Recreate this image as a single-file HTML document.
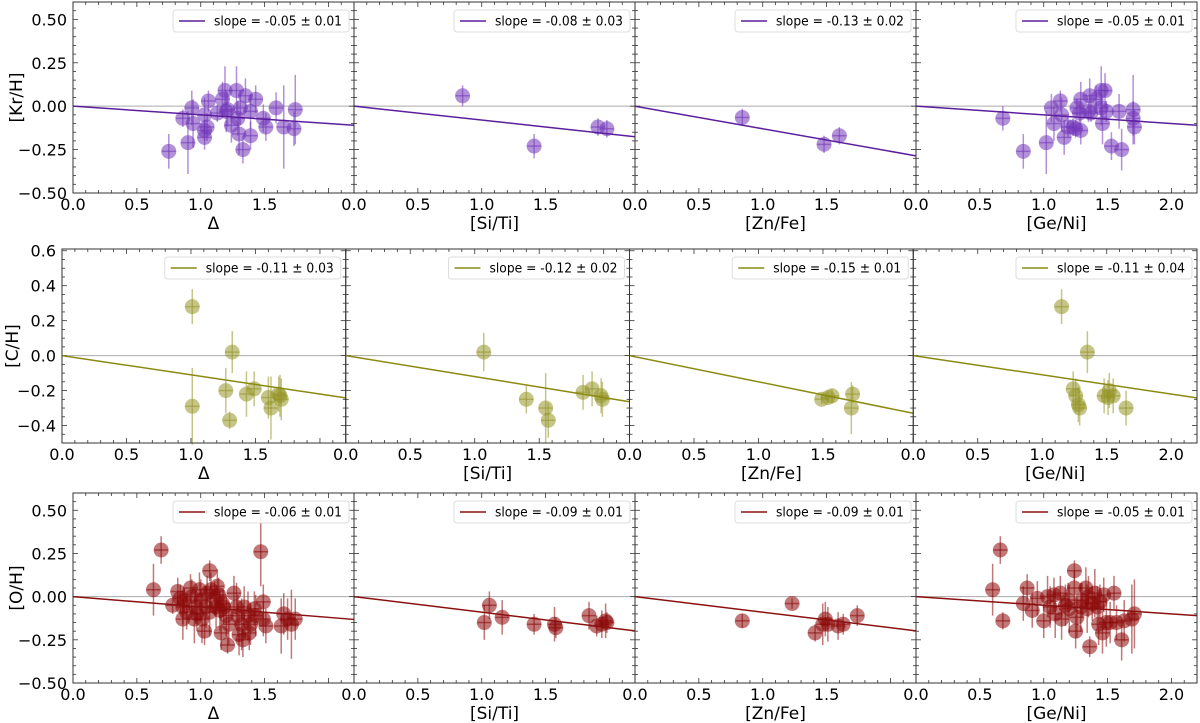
<!DOCTYPE html>
<html><head><meta charset="utf-8">
<style>
html,body{margin:0;padding:0;background:#fff;}
svg{display:block;font-family:"DejaVu Sans","Liberation Sans",sans-serif;}
</style></head>
<body>
<svg id="fig" width="1200" height="723" viewBox="0 0 1200 723"></svg>
<script>
// ---- data ----
const xLabels = ["Δ","[Si/Ti]","[Zn/Fe]","[Ge/Ni]"];
const yLabels = ["[Kr/H]","[C/H]","[O/H]"];
const slopes = [[-0.05,-0.08,-0.13,-0.05],[-0.11,-0.12,-0.15,-0.11],[-0.06,-0.09,-0.09,-0.05]];
const slopeErrs = [[0.01,0.03,0.02,0.01],[0.03,0.02,0.01,0.04],[0.01,0.01,0.01,0.01]];
const xTicks = [0,0.5,1.0,1.5,2.0];
const yTicksA = [-0.5,-0.25,0,0.25,0.5];
const yTicksB = [-0.4,-0.2,0,0.2,0.4,0.6];

// Row 1 (Kr)
const kr1X=[0.75,0.86,0.90,0.93,0.94,1.03,1.03,1.03,1.05,1.06,1.13,1.17,1.19,1.20,1.21,1.24,1.28,1.29,1.30,1.31,1.33,1.35,1.39,1.39,1.43,1.49,1.51,1.59,1.65,1.73,1.74];
const kr1Y=[-0.26,-0.07,-0.21,-0.01,-0.10,-0.05,-0.14,-0.18,-0.12,0.03,-0.04,0.04,0.09,-0.03,-0.02,-0.11,0.09,-0.07,-0.16,-0.01,-0.25,0.06,-0.03,-0.17,0.04,-0.07,-0.12,-0.01,-0.12,-0.13,-0.02];
const kr1E=[0.1,0.05,0.18,0.1,0.14,0.1,0.06,0.07,0.08,0.06,0.05,0.1,0.14,0.12,0.1,0.1,0.14,0.1,0.12,0.1,0.08,0.1,0.1,0.08,0.08,0.08,0.08,0.09,0.24,0.1,0.2];
const kr2X=[0.85,1.41,1.91,1.98]; const kr2Y=[0.06,-0.23,-0.12,-0.13]; const kr2E=[0.06,0.07,0.05,0.05];
const kr3X=[0.84,1.48,1.60]; const kr3Y=[-0.065,-0.22,-0.17]; const kr3E=[0.05,0.05,0.05];
const kr4X=[0.68,0.84,1.02,1.06,1.08,1.13,1.14,1.16,1.19,1.23,1.25,1.26,1.29,1.29,1.28,1.35,1.36,1.37,1.41,1.45,1.48,1.45,1.46,1.49,1.53,1.59,1.61,1.70,1.70,1.71];
const kr4Y=[-0.07,-0.26,-0.21,-0.01,-0.10,0.03,-0.05,-0.18,-0.12,-0.12,-0.13,-0.01,0.04,-0.14,-0.04,-0.03,0.06,-0.04,0.04,0.09,0.09,-0.01,-0.10,-0.03,-0.23,-0.03,-0.25,-0.02,-0.07,-0.12];
const kr4E=[0.07,0.1,0.18,0.08,0.1,0.06,0.1,0.1,0.06,0.05,0.05,0.05,0.1,0.08,0.06,0.06,0.1,0.05,0.08,0.14,0.1,0.1,0.12,0.06,0.08,0.1,0.12,0.2,0.1,0.1];
// Row 2 (C)
const c1X=[1.01,1.01,1.27,1.30,1.32,1.43,1.49,1.60,1.62,1.68,1.69,1.70];
const c1Y=[0.28,-0.29,-0.20,-0.37,0.02,-0.22,-0.19,-0.24,-0.30,-0.22,-0.23,-0.25];
const c1E=[0.1,0.22,0.13,0.05,0.12,0.13,0.1,0.12,0.18,0.1,0.12,0.12];
const c2X=[1.07,1.40,1.55,1.57,1.84,1.91,1.98,1.99]; const c2Y=[0.02,-0.25,-0.30,-0.37,-0.21,-0.19,-0.23,-0.25];
const c2E=[0.11,0.08,0.2,0.1,0.1,0.1,0.1,0.1];
const c3X=[1.49,1.54,1.57,1.73,1.72]; const c3Y=[-0.25,-0.24,-0.23,-0.22,-0.30]; const c3E=[0.03,0.03,0.04,0.05,0.15];
const c4X=[1.15,1.35,1.24,1.26,1.28,1.29,1.48,1.51,1.55,1.52,1.65]; const c4Y=[0.28,0.02,-0.19,-0.23,-0.28,-0.30,-0.23,-0.24,-0.23,-0.20,-0.30];
const c4E=[0.1,0.12,0.1,0.1,0.1,0.1,0.1,0.1,0.1,0.1,0.1];
// Row 3 (O)
const o1X=[0.63,0.69,0.78,0.82,0.84,0.86,0.87,0.86,0.89,0.92,0.93,0.95,0.96,0.97,0.99,1.00,1.01,1.03,1.04,1.05,1.07,1.07,1.08,1.11,1.12,1.13,1.14,1.15,1.16,1.17,1.18,1.20,1.21,1.22,1.26,1.28,1.29,1.30,1.32,1.33,1.34,1.37,1.38,1.39,1.42,1.43,1.47,1.49,1.49,1.51,1.63,1.65,1.68,1.71,1.74];
const o1Y=[0.04,0.27,-0.05,0.03,-0.01,-0.06,-0.02,-0.13,-0.09,0.05,0.00,-0.13,-0.06,-0.10,0.04,-0.02,-0.13,-0.20,-0.06,0.02,0.15,-0.09,0.04,-0.01,-0.06,0.06,0.01,-0.08,-0.21,-0.04,-0.06,-0.11,-0.28,-0.16,0.02,-0.06,-0.11,-0.22,-0.16,-0.25,-0.06,-0.11,-0.21,-0.16,-0.07,-0.11,0.26,-0.03,-0.13,-0.17,-0.17,-0.10,-0.13,-0.16,-0.13];
const o1E=[0.15,0.08,0.05,0.08,0.08,0.1,0.07,0.12,0.1,0.08,0.1,0.14,0.1,0.1,0.1,0.12,0.14,0.08,0.12,0.1,0.06,0.14,0.1,0.1,0.12,0.1,0.1,0.12,0.1,0.08,0.1,0.12,0.05,0.12,0.1,0.14,0.12,0.12,0.15,0.1,0.12,0.14,0.1,0.12,0.1,0.12,0.2,0.1,0.1,0.1,0.16,0.12,0.12,0.2,0.12];
const o2X=[1.02,1.06,1.16,1.41,1.57,1.58,1.84,1.90,1.94,1.97,1.98]; const o2Y=[-0.15,-0.05,-0.12,-0.16,-0.16,-0.18,-0.11,-0.17,-0.16,-0.14,-0.15];
const o2E=[0.1,0.08,0.1,0.06,0.1,0.06,0.08,0.06,0.08,0.1,0.06];
const o3X=[0.84,1.23,1.41,1.47,1.49,1.51,1.59,1.63,1.74]; const o3Y=[-0.14,-0.04,-0.21,-0.16,-0.13,-0.16,-0.17,-0.16,-0.11];
const o3E=[0.04,0.03,0.05,0.12,0.1,0.1,0.08,0.06,0.06];
const o4X=[0.66,0.60,0.68,0.84,0.87,0.91,0.95,1.00,1.03,1.05,1.08,1.09,1.13,1.14,1.17,1.19,1.20,1.24,1.24,1.26,1.25,1.29,1.30,1.33,1.34,1.35,1.36,1.38,1.40,1.42,1.43,1.44,1.46,1.47,1.49,1.52,1.55,1.57,1.61,1.63,1.69,1.71];
const o4Y=[0.27,0.04,-0.14,-0.04,0.05,-0.08,-0.01,-0.14,0.00,-0.06,0.01,-0.10,0.02,-0.13,-0.05,-0.02,-0.07,0.15,0.05,-0.12,-0.20,-0.06,-0.02,0.05,-0.07,0.00,-0.29,-0.04,0.02,-0.06,-0.16,-0.03,-0.21,0.01,-0.15,-0.15,0.02,-0.15,-0.25,-0.14,-0.13,-0.10];
const o4E=[0.08,0.15,0.05,0.1,0.08,0.1,0.1,0.1,0.12,0.12,0.1,0.14,0.1,0.12,0.12,0.1,0.14,0.06,0.1,0.12,0.1,0.14,0.1,0.12,0.14,0.12,0.06,0.1,0.14,0.12,0.12,0.1,0.12,0.1,0.14,0.12,0.1,0.1,0.12,0.12,0.2,0.2];

const panelsX=[[kr1X,kr2X,kr3X,kr4X],[c1X,c2X,c3X,c4X],[o1X,o2X,o3X,o4X]];
const panelsY=[[kr1Y,kr2Y,kr3Y,kr4Y],[c1Y,c2Y,c3Y,c4Y],[o1Y,o2Y,o3Y,o4Y]];
const panelsE=[[kr1E,kr2E,kr3E,kr4E],[c1E,c2E,c3E,c4E],[o1E,o2E,o3E,o4E]];

// ---- layout ----
const rows=[{left:73,right:1197,top:2,bot:193,ymin:-0.5,ymax:0.6,ticks:yTicksA,dec:2,line:'#5b1f9e',dot:'rgba(115,55,185,0.55)',name:'kr'},
            {left:62,right:1197,top:249,bot:443,ymin:-0.5,ymax:0.61,ticks:yTicksB,dec:1,line:'#8a8a12',dot:'rgba(150,150,40,0.55)',name:'c'},
            {left:73,right:1197,top:493,bot:683,ymin:-0.5,ymax:0.6,ticks:yTicksA,dec:2,line:'#8b1010',dot:'rgba(140,10,10,0.55)',name:'o'}];
const NS='http://www.w3.org/2000/svg';
const svg=document.getElementById('fig');
function mk(tag,attrs,parent){const e=document.createElementNS(NS,tag);for(const k in attrs)e.setAttribute(k,attrs[k]);(parent||svg).appendChild(e);return e;}
function fmt(v,d){return (v<0?'\u2212':'')+Math.abs(v).toFixed(d);}

rows.forEach((R,ri)=>{
  const pw=(R.right-R.left)/4;
  const yS=v=>R.bot-(v-R.ymin)/(R.ymax-R.ymin)*(R.bot-R.top);
  const yl=mk('text',{x:0,y:0,transform:`translate(${ri==1?18:22},${(R.top+R.bot)/2}) rotate(-90)`,'text-anchor':'middle','font-size':17});
  yl.textContent=yLabels[ri];
  
  
  R.ticks.forEach(t=>{
    const tl=mk('text',{x:R.left-6,y:yS(t)+6,'text-anchor':'end','font-size':16});
    tl.textContent=fmt(t,R.dec);
    
    
  });
  for(let ci=0;ci<4;ci++){
    const x0=R.left+ci*pw;
    const xS=v=>x0+v/2.2*pw;
    const g=mk('g',{});
    
    
    mk('line',{x1:x0,x2:x0+pw,y1:yS(0),y2:yS(0),stroke:'#aaa','stroke-width':1},g);
    for(let k=0;k<=22;k++){
      const v=k/10, X=xS(v), L=(k%5==0)?5:3;
      mk('line',{x1:X,x2:X,y1:R.bot,y2:R.bot-L,stroke:'#333','stroke-width':0.8},g);
      mk('line',{x1:X,x2:X,y1:R.top,y2:R.top+L,stroke:'#333','stroke-width':0.8},g);
    }
    for(let k=-10;k<=12;k++){
      const v=k*0.05; if(v<R.ymin-1e-9||v>R.ymax+1e-9)continue;
      const Y=yS(v); const major=R.ticks.some(t=>Math.abs(t-v)<1e-9); const L=major?5:3;
      mk('line',{x1:x0,x2:x0+L,y1:Y,y2:Y,stroke:'#333','stroke-width':0.8},g);
      mk('line',{x1:x0+pw,x2:x0+pw-L,y1:Y,y2:Y,stroke:'#333','stroke-width':0.8},g);
    }
    xTicks.forEach(t=>{
      if(t==2.0&&ci<3)return;
      const tl=mk('text',{x:xS(t),y:R.bot+17,'text-anchor':'middle','font-size':16},g);
      tl.textContent=t.toFixed(1);
      
      
    });
    const xl=mk('text',{x:x0+pw/2,y:R.bot+36,'text-anchor':'middle','font-size':17},g);
    xl.textContent=xLabels[ci];
    
    
    const xs=panelsX[ri][ci], ys=panelsY[ri][ci], es=panelsE[ri][ci];
    xs.forEach((xv,i)=>{
      const cx=xS(xv), cy=yS(ys[i]), e=es[i];
      const p=mk('g',{},g);
      
      
      mk('line',{x1:cx,x2:cx,y1:yS(ys[i]+e),y2:yS(ys[i]-e),stroke:R.dot,'stroke-width':1.5},p);
      mk('line',{x1:cx-7,x2:cx+7,y1:cy,y2:cy,stroke:R.dot,'stroke-width':1.5},p);
      mk('circle',{cx:cx,cy:cy,r:7.5,fill:R.dot},p);
    });
    const fl=mk('line',{x1:xS(0),y1:yS(0),x2:xS(2.2),y2:yS(slopes[ri][ci]*2.2),stroke:R.line,'stroke-width':1.5},g);
    
    
    mk('rect',{x:x0,y:R.top,width:pw,height:R.bot-R.top,fill:'none',stroke:'#333','stroke-width':1},g);
    const lg=mk('g',{},g);
    
    
    const lx=x0+pw-181, ly=R.top+8;
    mk('rect',{x:lx,y:ly,width:176,height:22,rx:3,fill:'#fff','fill-opacity':0.85,stroke:'#ddd'},lg);
    mk('line',{x1:lx+6,x2:lx+32,y1:ly+11,y2:ly+11,stroke:R.line,'stroke-width':1.5},lg);
    const lt=mk('text',{x:lx+41,y:ly+15.5,'font-size':13,textLength:128,lengthAdjust:'spacingAndGlyphs'},lg);
    lt.textContent='slope = '+slopes[ri][ci].toFixed(2)+' \u00b1 '+slopeErrs[ri][ci].toFixed(2);
  }
});
</script>
</body></html>
